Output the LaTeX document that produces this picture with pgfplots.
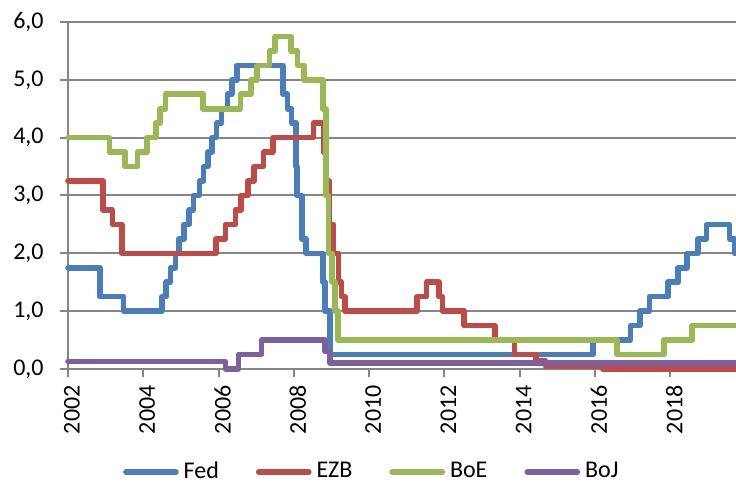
\documentclass[border=0pt,12pt]{standalone}
\usepackage{fontspec}
\setmainfont{Carlito}
\usepackage{pgfplots}
\pgfplotsset{compat=1.18}

\definecolor{fedblue}{RGB}{74,126,187}
\definecolor{ezbred}{RGB}{190,75,72}
\definecolor{boegreen}{RGB}{152,185,84}
\definecolor{bojpurple}{RGB}{125,96,160}
\definecolor{gridgray}{RGB}{134,134,134}

\begin{document}
\begin{tikzpicture}
\begin{axis}[
  scale only axis, width=334pt, height=173.5pt,
  xmin=2002, xmax=2019.75, ymin=0, ymax=6,
  clip=false,
  axis lines*=left,
  axis line style={gridgray, line width=1pt},
  xtick={2002,2004,...,2018},
  ytick={0,1,...,6},
  tick align=outside, major tick length=4pt,
  tick style={gridgray, line width=1pt},
  ymajorgrids, major grid style={gridgray, line width=1pt},
  xticklabel style={rotate=90, anchor=east, yshift=-2pt,
    /pgf/number format/1000 sep={}, /pgf/number format/assume math mode=true},
  yticklabel style={xshift=-4pt, /pgf/number format/.cd, fixed, fixed zerofill,
    precision=1, use comma, assume math mode=true},
  every axis plot/.append style={const plot, line width=2.8pt, line join=round, line cap=round},
  legend image code/.code={\draw[#1] (0pt,0pt) -- (25pt,0pt);},
  legend style={draw=none, fill=none, at={(0.457,-0.297)}, anchor=center,
    legend columns=4, nodes={inner xsep=2.5pt},
    /tikz/every even column/.append style={column sep=16pt}},
]
% Fed
\addplot[fedblue] coordinates {
  (2002.000,1.75) (2002.847,1.25) (2003.479,1.00) (2004.495,1.25) (2004.607,1.50)
  (2004.721,1.75) (2004.858,2.00) (2004.951,2.25) (2005.088,2.50) (2005.219,2.75)
  (2005.334,3.00) (2005.493,3.25) (2005.603,3.50) (2005.718,3.75) (2005.833,4.00)
  (2005.948,4.25) (2006.082,4.50) (2006.236,4.75) (2006.353,5.00) (2006.490,5.25)
  (2007.712,4.75) (2007.830,4.50) (2007.942,4.25) (2008.057,3.50) (2008.079,3.00)
  (2008.210,2.25) (2008.328,2.00) (2008.768,1.50) (2008.825,1.00) (2008.956,0.25)
  (2015.956,0.50) (2016.951,0.75) (2017.200,1.00) (2017.449,1.25) (2017.948,1.50)
  (2018.216,1.75) (2018.447,2.00) (2018.734,2.25) (2018.964,2.50) (2019.578,2.25)
  (2019.712,2.00) (2019.750,2.00)
};
\addlegendentry{Fed}
% EZB
\addplot[ezbred] coordinates {
  (2002.000,3.25) (2002.929,2.75) (2003.178,2.50) (2003.430,2.00) (2005.929,2.25)
  (2006.181,2.50) (2006.452,2.75) (2006.603,3.00) (2006.775,3.25) (2006.948,3.50)
  (2007.197,3.75) (2007.447,4.00) (2008.519,4.25) (2008.789,3.75) (2008.866,3.25)
  (2008.942,2.50) (2009.055,2.00) (2009.189,1.50) (2009.266,1.25) (2009.362,1.00)
  (2011.279,1.25) (2011.529,1.50) (2011.855,1.25) (2011.953,1.00) (2012.526,0.75)
  (2013.348,0.50) (2013.866,0.25) (2014.441,0.15) (2014.690,0.05) (2016.205,0.00)
  (2019.750,0.00)
};
\addlegendentry{EZB}
% BoE
\addplot[boegreen] coordinates {
  (2002.000,4.00) (2003.099,3.75) (2003.521,3.50) (2003.847,3.75) (2004.096,4.00)
  (2004.344,4.25) (2004.440,4.50) (2004.593,4.75) (2005.589,4.50) (2006.586,4.75)
  (2006.855,5.00) (2007.027,5.25) (2007.353,5.50) (2007.507,5.75) (2007.929,5.50)
  (2008.101,5.25) (2008.273,5.00) (2008.768,4.50) (2008.849,3.00) (2008.926,2.00)
  (2009.019,1.50) (2009.096,1.00) (2009.173,0.50) (2016.592,0.25) (2017.836,0.50)
  (2018.584,0.75) (2019.750,0.75)
};
\addlegendentry{BoE}
% BoJ
\addplot[bojpurple] coordinates {
  (2002.000,0.13) (2006.180,0.00) (2006.530,0.25) (2007.140,0.50) (2008.830,0.30)
  (2008.965,0.10) (2019.750,0.10)
};
\addlegendentry{BoJ}
\coordinate (sw) at (rel axis cs:0,0);
\coordinate (ne) at (rel axis cs:1,1);
\end{axis}
\pgfresetboundingbox
\path ([xshift=-34pt,yshift=-56.5pt]sw) rectangle ([yshift=11pt]ne);
\end{tikzpicture}
\end{document}
